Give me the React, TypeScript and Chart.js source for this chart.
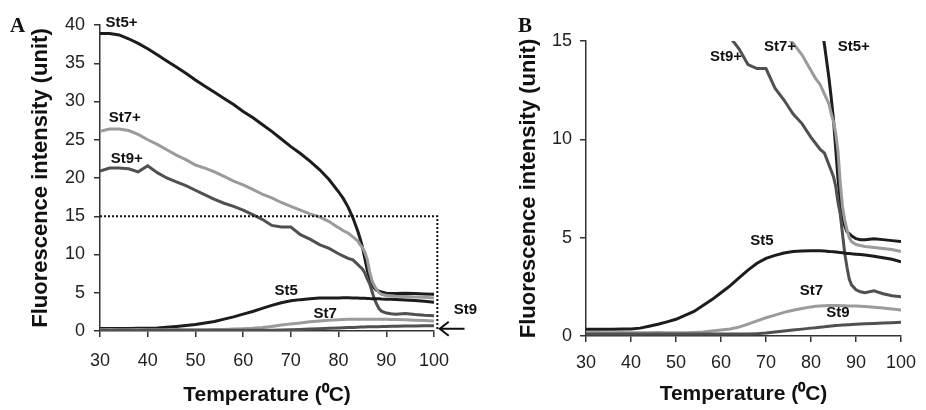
import React, { useEffect, useRef } from 'react';
import Chart from 'chart.js/auto';

// temperature (°C) sampled along the melting curves
const temps = [30, 32, 34, 36, 38, 40, 42, 44, 46, 48, 50, 52, 54, 56, 58, 60, 62, 64, 66, 68, 70, 72, 74, 76, 78, 80,
  81, 82, 83, 84, 84.5, 85, 85.5, 86, 86.5, 87, 87.5, 88, 88.5, 89, 90, 91, 92, 94, 96, 98, 100];

const st5Plus = [38.9, 38.9, 38.7, 38.2, 37.6, 36.9, 36.1, 35.3, 34.5, 33.7, 32.8, 32.0, 31.2, 30.4, 29.6, 28.7, 27.9, 27.0, 26.1, 25.1, 24.1, 23.2, 22.2, 21.1, 19.8, 18.2,
  17.3, 16.2, 14.8, 13.1, 12.1, 11.0, 9.5, 8.0, 6.9, 6.1, 5.6, 5.3, 5.2, 5.1, 4.95, 4.9, 4.9, 4.95, 4.9, 4.85, 4.8];
const st7Plus = [26.1, 26.4, 26.4, 26.2, 25.7, 25.0, 24.4, 23.7, 23.0, 22.4, 21.7, 21.3, 20.8, 20.2, 19.6, 19.1, 18.5, 17.9, 17.4, 16.8, 16.3, 15.8, 15.3, 14.9, 14.3, 13.5,
  13.1, 12.8, 12.3, 11.8, 11.3, 10.9, 10.3, 9.4, 7.8, 6.6, 5.9, 5.4, 5.0, 4.8, 4.65, 4.6, 4.55, 4.5, 4.45, 4.4, 4.3];
const st9Plus = [20.9, 21.3, 21.3, 21.2, 20.8, 21.6, 20.7, 20.0, 19.5, 19.0, 18.4, 17.8, 17.2, 16.7, 16.3, 15.8, 15.2, 14.6, 13.8, 13.6, 13.6, 12.6, 12.0, 11.3, 10.8, 10.1,
  9.8, 9.5, 9.3, 8.7, 8.4, 8.1, 7.6, 6.8, 6.2, 5.2, 4.2, 3.5, 2.9, 2.6, 2.35, 2.25, 2.2, 2.3, 2.15, 2.05, 2.0];
const st5 = [0.34, 0.34, 0.34, 0.34, 0.35, 0.36, 0.4, 0.5, 0.6, 0.72, 0.85, 1.05, 1.25, 1.55, 1.85, 2.2, 2.55, 2.95, 3.35, 3.7, 3.95, 4.1, 4.22, 4.3, 4.32, 4.33,
  4.34, 4.34, 4.32, 4.3, 4.29, 4.28, 4.27, 4.26, 4.24, 4.23, 4.22, 4.2, 4.2, 4.18, 4.16, 4.14, 4.12, 4.06, 3.98, 3.9, 3.77];
const st7 = [0.17, 0.18, 0.16, 0.17, 0.18, 0.17, 0.16, 0.17, 0.18, 0.17, 0.16, 0.17, 0.18, 0.2, 0.25, 0.3, 0.36, 0.45, 0.6, 0.77, 0.93, 1.06, 1.2, 1.31, 1.4, 1.48,
  1.51, 1.53, 1.54, 1.55, 1.55, 1.55, 1.55, 1.55, 1.54, 1.54, 1.54, 1.53, 1.53, 1.53, 1.52, 1.51, 1.5, 1.46, 1.42, 1.37, 1.32];
const st9 = [0.1, 0.1, 0.1, 0.1, 0.1, 0.1, 0.1, 0.1, 0.1, 0.1, 0.1, 0.1, 0.1, 0.1, 0.1, 0.1, 0.1, 0.1, 0.1, 0.12, 0.15, 0.2, 0.25, 0.3, 0.35, 0.4,
  0.42, 0.45, 0.47, 0.5, 0.51, 0.52, 0.53, 0.54, 0.55, 0.56, 0.56, 0.57, 0.57, 0.58, 0.6, 0.61, 0.62, 0.64, 0.66, 0.68, 0.7];

const xTickValues = [30, 40, 50, 60, 70, 80, 90, 100];
const yTicksA = [0, 5, 10, 15, 20, 25, 30, 35, 40];
const yTicksB = [0, 5, 10, 15];

const DARK = '#1c1c1c';
const MID = '#505050';
const LIGHT = '#9b9b9b';

const series = [
  { label: 'St9', values: st9, color: MID },
  { label: 'St7', values: st7, color: LIGHT },
  { label: 'St5', values: st5, color: DARK },
  { label: 'St9+', values: st9Plus, color: MID },
  { label: 'St7+', values: st7Plus, color: LIGHT },
  { label: 'St5+', values: st5Plus, color: DARK },
];

// curve labels, placed in data units
const labelsA = [
  { text: 'St5+', x: 34.5, y: 40.3 },
  { text: 'St7+', x: 35.2, y: 27.8 },
  { text: 'St9+', x: 35.6, y: 22.5 },
  { text: 'St5', x: 69, y: 5.2 },
  { text: 'St7', x: 77.2, y: 2.2 },
  { text: 'St9', x: 106.6, y: 2.7 },
];
const labelsB = [
  { text: 'St9+', x: 61.1, y: 14.2 },
  { text: 'St7+', x: 73.1, y: 14.7 },
  { text: 'St5+', x: 89.5, y: 14.7 },
  { text: 'St5', x: 69.1, y: 4.85 },
  { text: 'St7', x: 80.1, y: 2.29 },
  { text: 'St9', x: 86.0, y: 1.19 },
];

const SANS = '"Liberation Sans", Arial, sans-serif';

interface PanelProps {
  left: number;
  width: number;
  letter: string;
  letterX: number;
  yMax: number;
  yTicks: number[];
  labels: { text: string; x: number; y: number }[];
  pad: { top: number; right: number };
  yAxisWidth: number;
  xAxisHeight: number;
  yTitlePad: number;
  yTickPad: number;
  xTickPad: number;
  xTitlePad: number;
  zoomBox?: boolean;
}

const Panel: React.FC<PanelProps> = (p) => {
  const canvasRef = useRef<HTMLCanvasElement>(null);

  useEffect(() => {
    if (!canvasRef.current) return;

    const annotate = {
      id: 'annotate',
      afterDraw(chart: any) {
        const { ctx, scales: { x, y } } = chart;
        ctx.save();
        ctx.fillStyle = '#111';
        ctx.font = 'bold 21px "Liberation Serif", "Times New Roman", serif';
        ctx.textAlign = 'left';
        ctx.textBaseline = 'alphabetic';
        ctx.fillText(p.letter, p.letterX, 32);

        ctx.font = `bold 15px ${SANS}`;
        ctx.textAlign = 'center';
        ctx.textBaseline = 'middle';
        p.labels.forEach((l) => ctx.fillText(l.text, x.getPixelForValue(l.x), y.getPixelForValue(l.y)));

        if (p.zoomBox) {
          // dotted frame marking the region shown in panel B
          ctx.strokeStyle = '#111';
          ctx.lineWidth = 2;
          ctx.setLineDash([2, 2]);
          ctx.beginPath();
          ctx.moveTo(x.getPixelForValue(30), y.getPixelForValue(15));
          ctx.lineTo(x.getPixelForValue(100.7), y.getPixelForValue(15));
          ctx.lineTo(x.getPixelForValue(100.7), y.getPixelForValue(0));
          ctx.stroke();
          ctx.setLineDash([]);
          // arrow pointing at St9
          const ay = y.getPixelForValue(0.3);
          const tip = x.getPixelForValue(101.2);
          const tail = x.getPixelForValue(106.4);
          ctx.beginPath();
          ctx.moveTo(tail, ay);
          ctx.lineTo(tip, ay);
          ctx.moveTo(tip + 9, ay - 7);
          ctx.lineTo(tip, ay);
          ctx.lineTo(tip + 9, ay + 7);
          ctx.stroke();
        }
        ctx.restore();
      },
    };

    const chart = new Chart(canvasRef.current, {
      type: 'line',
      data: {
        datasets: series.map((s) => ({
          label: s.label,
          data: temps.map((t, i) => ({ x: t, y: s.values[i] })),
          borderColor: s.color,
          borderWidth: 3,
          pointRadius: 0,
          tension: 0,
          fill: false,
        })),
      },
      options: {
        animation: false,
        responsive: true,
        maintainAspectRatio: false,
        layout: { padding: { left: 0, top: p.pad.top, right: p.pad.right, bottom: 0 } },
        plugins: { legend: { display: false }, tooltip: { enabled: false } },
        scales: {
          x: {
            type: 'linear',
            min: 30,
            max: 100,
            afterBuildTicks: (s: any) => { s.ticks = xTickValues.map((v) => ({ value: v })); },
            afterFit: (s: any) => { s.height = p.xAxisHeight; },
            grid: { drawOnChartArea: false, drawTicks: true, tickLength: 6, color: '#333', lineWidth: 1.5 },
            border: { display: true, color: '#333', width: 1.5 },
            ticks: { color: '#222', font: { family: SANS, size: 18 }, padding: p.xTickPad, maxRotation: 0 },
            title: {
              display: true,
              text: 'Temperature (⁰C)',
              color: '#111',
              font: { family: SANS, size: 21, weight: 'bold' },
              padding: { top: 0, bottom: p.xTitlePad },
            },
          },
          y: {
            type: 'linear',
            min: 0,
            max: p.yMax,
            afterBuildTicks: (s: any) => { s.ticks = p.yTicks.map((v) => ({ value: v })); },
            afterFit: (s: any) => { s.width = p.yAxisWidth; },
            grid: { drawOnChartArea: false, drawTicks: true, tickLength: 6, color: '#333', lineWidth: 1.5 },
            border: { display: true, color: '#333', width: 1.5 },
            ticks: { color: '#222', font: { family: SANS, size: 18 }, padding: p.yTickPad },
            title: {
              display: true,
              text: 'Fluorescence intensity (unit)',
              color: '#111',
              font: { family: SANS, size: 22, weight: 'bold' },
              padding: { top: p.yTitlePad, bottom: 0 },
            },
          },
        },
      },
      plugins: [annotate],
    } as any);

    return () => chart.destroy();
  }, []);

  return (
    <div style={{ position: 'absolute', left: p.left, top: 0, width: p.width, height: 410 }}>
      <canvas ref={canvasRef}></canvas>
    </div>
  );
};

export default function App() {
  return (
    <div style={{ position: 'absolute', left: 0, top: 0, width: 926, height: 410, background: '#fff', overflow: 'hidden' }}>
      <Panel
        left={0}
        width={480}
        letter="A"
        letterX={10}
        yMax={40}
        yTicks={yTicksA}
        labels={labelsA}
        pad={{ top: 25, right: 46 }}
        yAxisWidth={100}
        xAxisHeight={79}
        yTitlePad={28}
        yTickPad={9}
        xTickPad={13}
        xTitlePad={2}
        zoomBox
      />
      <Panel
        left={490}
        width={436}
        letter="B"
        letterX={28}
        yMax={15}
        yTicks={yTicksB}
        labels={labelsB}
        pad={{ top: 41, right: 17 }}
        yAxisWidth={96}
        xAxisHeight={74}
        yTitlePad={26}
        yTickPad={8}
        xTickPad={10}
        xTitlePad={3.5}
      />
    </div>
  );
}
